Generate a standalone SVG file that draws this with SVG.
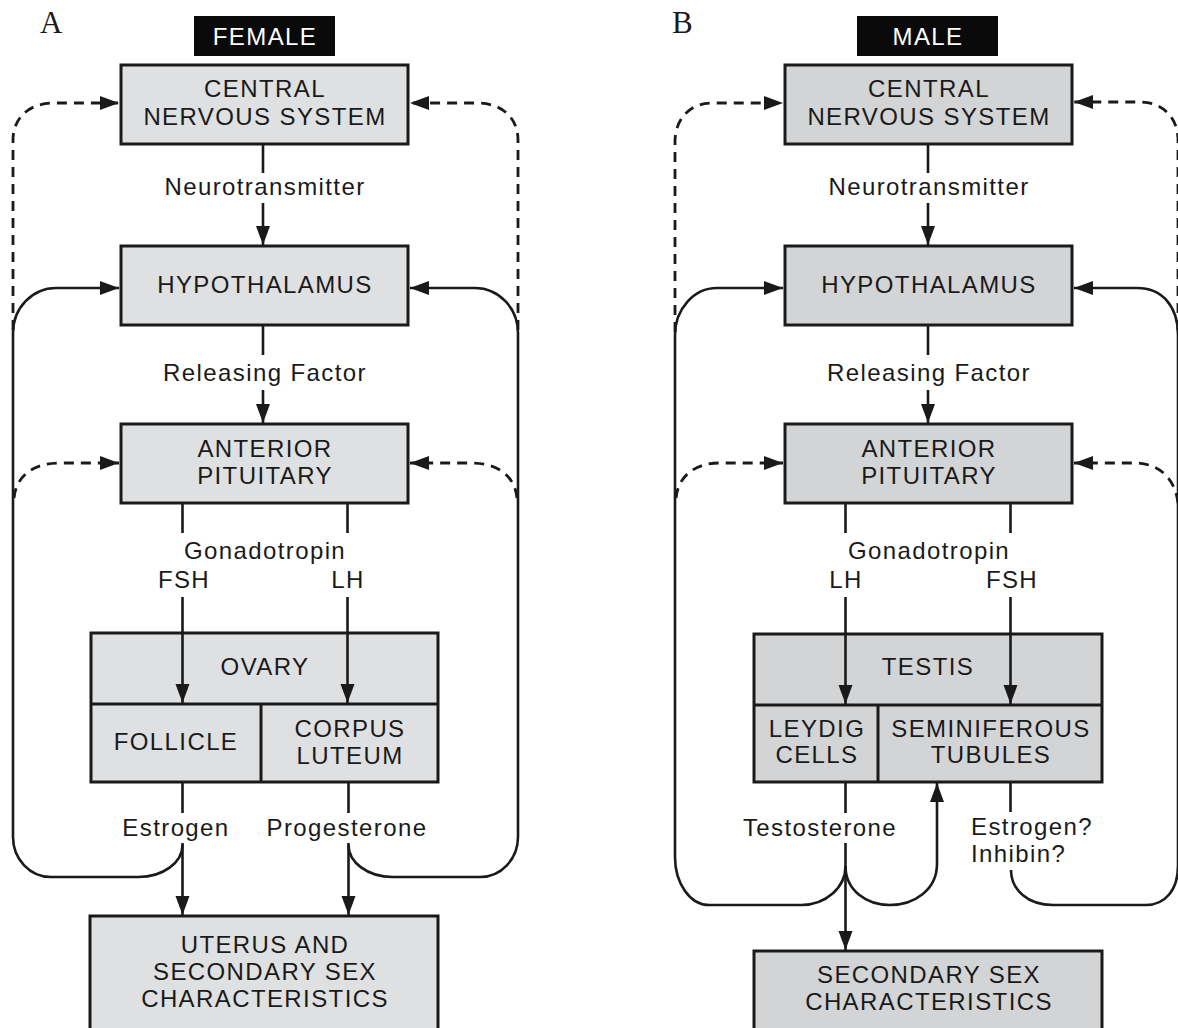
<svg xmlns="http://www.w3.org/2000/svg" width="1178" height="1028" viewBox="0 0 1178 1028">
<style>
.bf{fill:#dfe0e2;stroke:#1a1a1a;stroke-width:3}
.bm{fill:#d3d4d6;stroke:#1a1a1a;stroke-width:3}
.dv{fill:none;stroke:#1a1a1a;stroke-width:3}
.hdr{fill:#0a0a0a}
.t{font-family:"Liberation Sans",Arial,sans-serif;font-size:24px;letter-spacing:1.4px;fill:#1a1a1a;text-anchor:middle}
.tl{text-anchor:start}
.w{fill:#ffffff}
.pl{font-family:"Liberation Serif","Times New Roman",serif;font-size:31px;fill:#1a1a1a}
.ln{fill:none;stroke:#1a1a1a;stroke-width:2.6}
.ds{stroke-dasharray:10 7;stroke-width:2.8}
</style>
<defs>
<marker id="ah" markerUnits="userSpaceOnUse" markerWidth="19" markerHeight="15" refX="19" refY="7.5" orient="auto"><path d="M0,0.5 L19,7.5 L0,14.5 Z" fill="#1a1a1a"/></marker>
</defs>

<text class="pl" x="40" y="33">A</text>
<text class="pl" x="672" y="33">B</text>

<!-- FEMALE nodes -->
<g id="female-title"><rect class="hdr" x="194" y="16" width="141" height="40"/><text class="t w" x="265" y="45">FEMALE</text></g>
<g id="f-cns"><rect class="bf" x="121" y="65" width="287" height="79"/><text class="t" x="265" y="97">CENTRAL</text><text class="t" x="265" y="125">NERVOUS SYSTEM</text></g>
<g id="f-hypo"><rect class="bf" x="121" y="246" width="287" height="79"/><text class="t" x="265" y="293">HYPOTHALAMUS</text></g>
<g id="f-ap"><rect class="bf" x="121" y="424" width="287" height="79"/><text class="t" x="265" y="457">ANTERIOR</text><text class="t" x="265" y="484">PITUITARY</text></g>
<g id="f-ovary"><rect class="bf" x="91" y="633" width="347" height="149"/><line class="dv" x1="91" y1="704" x2="438" y2="704"/><line class="dv" x1="261" y1="704" x2="261" y2="782"/>
<text class="t" x="265" y="675">OVARY</text>
<text class="t" x="176" y="750">FOLLICLE</text>
<text class="t" x="350" y="737">CORPUS</text><text class="t" x="350" y="764">LUTEUM</text></g>
<g id="f-uterus"><rect class="bf" x="90" y="916" width="348" height="130"/><text class="t" x="265" y="953">UTERUS AND</text><text class="t" x="265" y="980">SECONDARY SEX</text><text class="t" x="265" y="1007">CHARACTERISTICS</text></g>

<!-- MALE nodes -->
<g id="male-title"><rect class="hdr" x="857" y="16" width="141" height="40"/><text class="t w" x="928" y="45">MALE</text></g>
<g id="m-cns"><rect class="bm" x="785" y="65" width="287" height="79"/><text class="t" x="929" y="97">CENTRAL</text><text class="t" x="929" y="125">NERVOUS SYSTEM</text></g>
<g id="m-hypo"><rect class="bm" x="785" y="246" width="287" height="79"/><text class="t" x="929" y="293">HYPOTHALAMUS</text></g>
<g id="m-ap"><rect class="bm" x="785" y="424" width="287" height="79"/><text class="t" x="929" y="457">ANTERIOR</text><text class="t" x="929" y="484">PITUITARY</text></g>
<g id="m-testis"><rect class="bm" x="754" y="634" width="348" height="148"/><line class="dv" x1="754" y1="705" x2="1102" y2="705"/><line class="dv" x1="878" y1="705" x2="878" y2="782"/>
<text class="t" x="928" y="675">TESTIS</text>
<text class="t" x="817" y="737">LEYDIG</text><text class="t" x="817" y="763">CELLS</text>
<text class="t" x="991" y="737">SEMINIFEROUS</text><text class="t" x="991" y="763">TUBULES</text></g>
<g id="m-secondary"><rect class="bm" x="754" y="951" width="348" height="95"/><text class="t" x="929" y="983">SECONDARY SEX</text><text class="t" x="929" y="1010">CHARACTERISTICS</text></g>

<!-- connectors -->
<g id="connectors">
<!-- female main chain -->
<line class="ln" x1="263" y1="144" x2="263" y2="173"/>
<text class="t" x="265" y="195">Neurotransmitter</text>
<path class="ln" d="M263 203 V245" marker-end="url(#ah)"/>
<line class="ln" x1="263" y1="325" x2="263" y2="355"/>
<text class="t" x="265" y="381">Releasing Factor</text>
<path class="ln" d="M263 390 V423" marker-end="url(#ah)"/>
<line class="ln" x1="182.5" y1="503" x2="182.5" y2="533"/>
<line class="ln" x1="347.5" y1="503" x2="347.5" y2="533"/>
<text class="t" x="265" y="559">Gonadotropin</text>
<text class="t" x="184" y="588">FSH</text>
<text class="t" x="348" y="588">LH</text>
<path class="ln" d="M182.5 597 V703" marker-end="url(#ah)"/>
<path class="ln" d="M347.5 597 V703" marker-end="url(#ah)"/>
<line class="ln" x1="182.5" y1="782" x2="182.5" y2="813"/>
<line class="ln" x1="348.5" y1="782" x2="348.5" y2="813"/>
<text class="t" x="176" y="836">Estrogen</text>
<text class="t" x="347" y="836">Progesterone</text>
<path class="ln" d="M182.5 843 V915" marker-end="url(#ah)"/>
<path class="ln" d="M348.5 843 V915" marker-end="url(#ah)"/>
<!-- female feedback loops -->
<path class="ln" d="M182.5 845 A44 32 0 0 1 138.5 877 H51 A38 40 0 0 1 13 837 V333 A43 45 0 0 1 56 288 H119" marker-end="url(#ah)"/>
<path class="ln" d="M348.5 845 A44 32 0 0 0 392.5 877 H480 A38 40 0 0 0 518 837 V333 A43 45 0 0 0 475 288 H410" marker-end="url(#ah)"/>
<path class="ln ds" d="M13 330 V140 C13 118 29 103 54 103 H119" marker-end="url(#ah)"/>
<path class="ln ds" d="M518 330 V140 C518 118 502 103 477 103 H410" marker-end="url(#ah)"/>
<path class="ln ds" d="M14 498 C16 477 32 463 60 463 H119" marker-end="url(#ah)"/>
<path class="ln ds" d="M517 498 C515 477 499 463 471 463 H410" marker-end="url(#ah)"/>

<!-- male main chain -->
<line class="ln" x1="928" y1="144" x2="928" y2="173"/>
<text class="t" x="929" y="195">Neurotransmitter</text>
<path class="ln" d="M928 203 V245" marker-end="url(#ah)"/>
<line class="ln" x1="928" y1="325" x2="928" y2="355"/>
<text class="t" x="929" y="381">Releasing Factor</text>
<path class="ln" d="M928 390 V423" marker-end="url(#ah)"/>
<line class="ln" x1="845.5" y1="503" x2="845.5" y2="533"/>
<line class="ln" x1="1010.5" y1="503" x2="1010.5" y2="533"/>
<text class="t" x="929" y="559">Gonadotropin</text>
<text class="t" x="846" y="588">LH</text>
<text class="t" x="1012" y="588">FSH</text>
<path class="ln" d="M845.5 597 V704" marker-end="url(#ah)"/>
<path class="ln" d="M1010.5 597 V704" marker-end="url(#ah)"/>
<line class="ln" x1="845.5" y1="782" x2="845.5" y2="813"/>
<line class="ln" x1="1010.5" y1="782" x2="1010.5" y2="812"/>
<text class="t" x="820" y="836">Testosterone</text>
<text class="t tl" x="971" y="835">Estrogen?</text>
<text class="t tl" x="971" y="862">Inhibin?</text>
<path class="ln" d="M845.5 843 V950" marker-end="url(#ah)"/>
<path class="ln" d="M845.5 866 C845.5 890 866 905 890 905 C914 905 937 890 937 864 V783" marker-end="url(#ah)"/>
<!-- male feedback loops -->
<path class="ln" d="M845.5 866 A44 39 0 0 1 801.5 905 H709 A34 48 0 0 1 675 857 V335 A42 47 0 0 1 717 288 H783" marker-end="url(#ah)"/>
<path class="ln" d="M1011 870 C1011 890 1028 905 1053 905 H1146 C1165 905 1178 890 1178 866 V335 C1178 306 1162 288 1137 288 H1074" marker-end="url(#ah)"/>
<path class="ln ds" d="M675 332 V142 C675 119 690 103 712 103 H783" marker-end="url(#ah)"/>
<path class="ln ds" d="M1178 330 V140 C1178 118 1163 102 1140 102 H1074" marker-end="url(#ah)"/>
<path class="ln ds" d="M676 498 C678 477 694 463 720 463 H783" marker-end="url(#ah)"/>
<path class="ln ds" d="M1178 503 C1175 479 1160 463 1134 463 H1074" marker-end="url(#ah)"/>
</g>
</svg>
